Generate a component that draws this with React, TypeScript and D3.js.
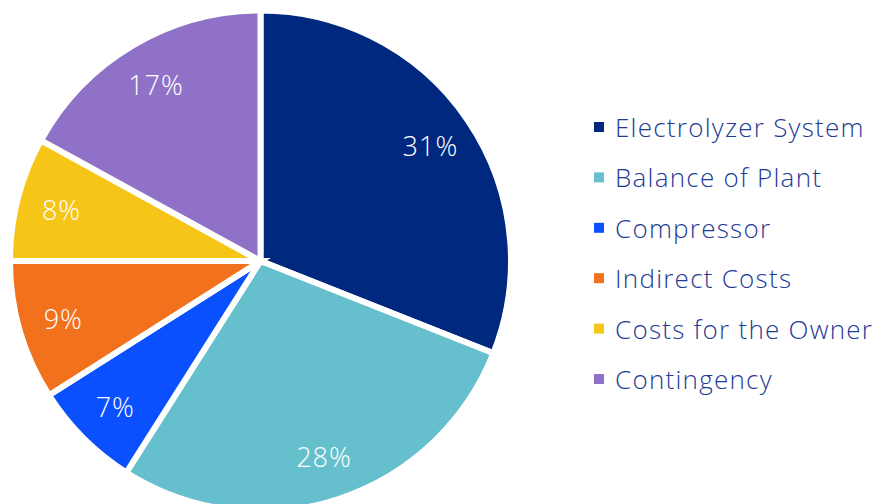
import React from "react";
import * as d3 from "d3";

const categories = [
  "Electrolyzer System",
  "Balance of Plant",
  "Compressor",
  "Indirect Costs",
  "Costs for the Owner",
  "Contingency",
];
const values = [31, 28, 7, 9, 8, 17];
const colors = ["#00287f", "#66bfcc", "#0a50ff", "#f2711c", "#f5c518", "#8f72c8"];

const W = 876;
const H = 504;
const cx = 260.5;
const cy = 261;
const R = 250.5;

export default function App() {
  const pie = d3.pie<number>().sort(null).value((d) => d);
  const arcs = pie(values);
  const arcGen = d3.arc<d3.PieArcDatum<number>>().innerRadius(0).outerRadius(R);
  const labelArc = d3.arc<d3.PieArcDatum<number>>().innerRadius(R * 0.82).outerRadius(R * 0.82);
  const total = d3.sum(values);
  const legendY = d3.scalePoint<string>().domain(categories).range([127, 379]);

  return (
    <svg
      width={W}
      height={H}
      style={{ position: "absolute", left: 0, top: 0, background: "#fff" }}
      fontFamily="'Open Sans', sans-serif"
    >
      <g transform={`translate(${cx},${cy})`}>
        {arcs.map((a, i) => (
          <path key={i} d={arcGen(a) || ""} fill={colors[i]} stroke="#fff" strokeWidth={6} strokeLinejoin="miter" />
        ))}
        {arcs.map((a, i) => {
          const [x, y] = labelArc.centroid(a);
          return (
            <text
              key={i}
              x={x}
              y={y}
              textAnchor="middle"
              dominantBaseline="central"
              fill="#fff"
              fontSize={27}
              fontWeight={300}
              letterSpacing={1}
            >
              {Math.round((values[i] / total) * 100)}%
            </text>
          );
        })}
      </g>
      <g>
        {categories.map((c, i) => {
          const y = legendY(c) as number;
          return (
            <g key={c}>
              <rect x={594} y={y - 5} width={10} height={10} fill={colors[i]} />
              <text
                x={615}
                y={y}
                dominantBaseline="central"
                fill="#1e3b96"
                fontSize={26}
                fontWeight={300}
                letterSpacing={1.25}
              >
                {c}
              </text>
            </g>
          );
        })}
      </g>
    </svg>
  );
}
